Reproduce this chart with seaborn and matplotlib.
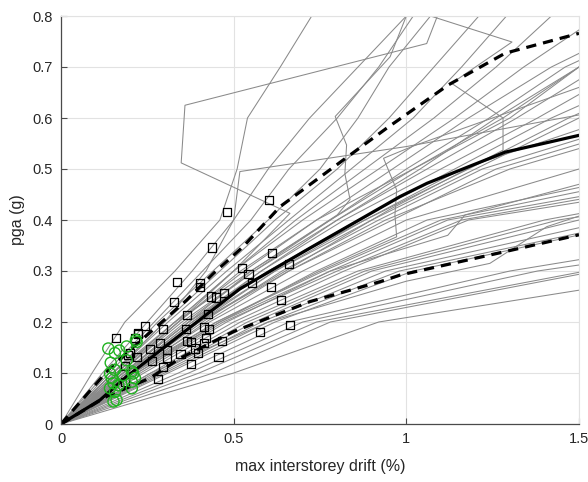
import numpy as np
import pandas as pd
import matplotlib
matplotlib.use("Agg")
import matplotlib.pyplot as plt
import seaborn as sns

# PGA levels (g) at which each IDA record was run
pga_levels = [0.0, 0.1, 0.2, 0.3, 0.4, 0.5, 0.6, 0.7, 0.8]

# max interstorey drift (%) per record at the pga levels above (0.1 ... 0.8)
drift_stiff = [
    [0.09, 0.185, 0.33, 0.46, 0.51, 0.54, 0.635, 0.726],
    [0.12, 0.25, 0.38, 0.50, 0.60, 0.72, 0.86, 1.00],
    [0.13, 0.27, 0.41, 0.55, 0.66, 0.80, 0.92, 1.02],
    [0.14, 0.28, 0.44, 0.60, 0.75, 0.86, 0.95, 1.07],
    [0.15, 0.30, 0.46, 0.62, 0.80, 0.95, 1.08, 1.21],
    [0.15, 0.31, 0.48, 0.66, 0.84, 1.02, 1.16, 1.29],
    [0.16, 0.33, 0.50, 0.68, 0.88, 1.08, 1.26, 1.42],
]
drift_upper = [
    [0.16, 0.33, 0.50, 0.70, 0.92, 1.14, 1.34, 1.56],
    [0.17, 0.34, 0.53, 0.74, 0.96, 1.18, 1.42, 1.72],
    [0.15, 0.33, 0.55, 0.78, 1.00, 1.24, 1.46, 1.78],
    [0.18, 0.36, 0.56, 0.78, 1.02, 1.28, 1.50, 1.85],
    [0.16, 0.34, 0.52, 0.74, 1.02, 1.30, 1.50, 1.90],
    [0.19, 0.38, 0.58, 0.80, 1.04, 1.26, 1.50, 1.80],
    [0.17, 0.35, 0.56, 0.80, 1.06, 1.32, 1.56, 1.95],
    [0.18, 0.37, 0.58, 0.82, 1.10, 1.38, 1.64, 2.00],
    [0.19, 0.38, 0.60, 0.86, 1.14, 1.42, 1.75, 2.10],
    [0.18, 0.37, 0.60, 0.88, 1.18, 1.47, 1.80, 2.20],
    [0.20, 0.40, 0.62, 0.90, 1.20, 1.50, 1.85, 2.20],
]
drift_middle = [
    [0.19, 0.39, 0.62, 0.88, 1.16, 1.60, 2.00, 2.40],
    [0.20, 0.41, 0.64, 0.92, 1.22, 1.70, 2.10, 2.50],
    [0.18, 0.40, 0.66, 0.96, 1.26, 1.75, 2.20, 2.60],
    [0.21, 0.42, 0.66, 0.94, 1.30, 1.80, 2.30, 2.70],
    [0.20, 0.43, 0.70, 1.00, 1.50, 2.00, 2.50, 3.00],
    [0.22, 0.46, 0.74, 1.06, 1.75, 2.30, 2.80, 3.30],
    [0.21, 0.45, 0.76, 1.10, 1.82, 2.40, 2.90, 3.40],
    [0.23, 0.48, 0.78, 1.12, 1.95, 2.50, 3.00, 3.50],
    [0.22, 0.47, 0.80, 1.16, 2.00, 2.60, 3.10, 3.60],
    [0.24, 0.50, 0.82, 1.18, 2.10, 2.70, 3.20, 3.70],
]
drift_soft = [
    [0.26, 0.52, 0.86, 1.40, 2.20, 3.00, 3.60, 4.20],
    [0.27, 0.54, 0.88, 1.44, 2.40, 3.10, 3.70, 4.30],
    [0.28, 0.56, 0.90, 1.50, 2.50, 3.20, 3.80, 4.40],
    [0.29, 0.58, 0.94, 1.60, 2.60, 3.30, 3.90, 4.50],
    [0.30, 0.60, 0.98, 1.68, 2.70, 3.40, 4.00, 4.60],
    [0.31, 0.62, 1.02, 1.70, 2.80, 3.50, 4.10, 4.70],
    [0.34, 0.66, 1.30, 2.20, 3.00, 3.70, 4.30, 4.90],
    [0.37, 0.70, 1.38, 2.40, 3.20, 3.90, 4.50, 5.10],
    [0.40, 0.74, 1.52, 2.60, 3.40, 4.10, 4.70, 5.30],
    [0.44, 0.78, 1.55, 2.80, 3.60, 4.30, 4.90, 5.50],
    [0.50, 0.92, 1.85, 3.00, 3.80, 4.50, 5.10, 5.70],
]

# records whose IDA curves weave / resurrect (own pga steps)
odd_drift = [
    [0, 0.17, 0.34, 0.50, 0.663, 0.348, 0.359, 1.059, 1.09],
    [0, 0.20, 0.40, 0.65, 0.95, 1.28, 1.28, 1.131, 1.306, 1.07],
    [0, 0.18, 0.37, 0.55, 0.80, 0.837, 0.822, 0.827, 0.794, 0.953, 1.0],
    [0, 0.20, 0.45, 0.75, 0.972, 0.967, 0.972, 0.934, 1.02, 1.5],
    [0, 0.15, 0.30, 0.42, 0.50, 0.518, 1.0, 1.5],
    [0, 0.26, 0.60, 1.00, 1.242, 1.407, 1.6],
    [0, 0.21, 0.46, 0.78, 1.12, 1.17, 1.5],
]
odd_pga = [
    [0, 0.1, 0.2, 0.3, 0.413, 0.512, 0.625, 0.746, 0.8],
    [0, 0.1, 0.2, 0.3, 0.42, 0.537, 0.6, 0.668, 0.749, 0.8],
    [0, 0.1, 0.2, 0.3, 0.41, 0.44, 0.491, 0.547, 0.603, 0.72, 0.8],
    [0, 0.1, 0.2, 0.3, 0.367, 0.41, 0.459, 0.521, 0.545, 0.66],
    [0, 0.1, 0.2, 0.3, 0.4, 0.495, 0.544, 0.606],
    [0, 0.1, 0.2, 0.28, 0.315, 0.387, 0.43],
    [0, 0.1, 0.2, 0.3, 0.37, 0.41, 0.47],
]

# 16 / 50 / 84 % fractile curves
p16_drift = [0, 0.142, 0.277, 0.364, 0.441, 0.528, 0.634, 0.818, 0.943, 1.122, 1.286, 1.5]
p16_pga = [0, 0.11, 0.191, 0.243, 0.295, 0.348, 0.426, 0.518, 0.58, 0.665, 0.727, 0.766]
p50_drift = [0, 0.113, 0.19, 0.403, 0.518, 0.721, 0.982, 1.06, 1.286, 1.5]
p50_pga = [0, 0.047, 0.093, 0.205, 0.265, 0.345, 0.446, 0.472, 0.533, 0.566]
p84_drift = [0, 0.132, 0.258, 0.345, 0.499, 0.721, 0.924, 0.982, 1.286, 1.5]
p84_pga = [0, 0.054, 0.09, 0.129, 0.181, 0.24, 0.279, 0.292, 0.338, 0.371]

# limit-state points: yielding (squares) and first cracking (circles)
sq_drift = [0.437, 0.612, 0.661, 0.523, 0.543, 0.337, 0.402, 0.402, 0.554, 0.434,
            0.448, 0.473, 0.607, 0.636, 0.327, 0.364, 0.425, 0.243, 0.296, 0.362,
            0.414, 0.428, 0.222, 0.159, 0.214, 0.364, 0.376, 0.419, 0.415, 0.465,
            0.287, 0.257, 0.308, 0.388, 0.346, 0.396, 0.195, 0.219, 0.308, 0.263,
            0.456, 0.575, 0.664, 0.376, 0.296, 0.185, 0.280, 0.185, 0.482, 0.603,
            0.224, 0.200]
sq_pga = [0.346, 0.336, 0.314, 0.305, 0.295, 0.278, 0.276, 0.269, 0.276, 0.250,
          0.248, 0.257, 0.269, 0.243, 0.239, 0.214, 0.216, 0.193, 0.186, 0.186,
          0.191, 0.186, 0.176, 0.168, 0.168, 0.163, 0.161, 0.168, 0.159, 0.163,
          0.158, 0.147, 0.145, 0.148, 0.137, 0.139, 0.135, 0.131, 0.129, 0.124,
          0.132, 0.180, 0.194, 0.117, 0.112, 0.114, 0.088, 0.083, 0.416, 0.439,
          0.178, 0.139]
ci_drift = [0.137, 0.169, 0.190, 0.217, 0.144, 0.156, 0.147, 0.180, 0.205, 0.214,
            0.152, 0.166, 0.205, 0.142, 0.156, 0.205, 0.152, 0.161, 0.156, 0.190,
            0.142, 0.219, 0.209]
ci_pga = [0.148, 0.144, 0.152, 0.165, 0.120, 0.106, 0.090, 0.096, 0.103, 0.090,
          0.080, 0.076, 0.083, 0.070, 0.063, 0.070, 0.044, 0.047, 0.139, 0.125,
          0.099, 0.161, 0.099]

x_ticks = [0, 0.5, 1, 1.5]
x_tick_labels = ["0", "0.5", "1", "1.5"]
y_ticks = [0, 0.1, 0.2, 0.3, 0.4, 0.5, 0.6, 0.7, 0.8]
y_tick_labels = ["0", "0.1", "0.2", "0.3", "0.4", "0.5", "0.6", "0.7", "0.8"]

# ---- long-form table of all IDA curves ----
rows = []
rec = 0
for group in (drift_stiff, drift_upper, drift_middle, drift_soft):
    for drifts in group:
        for d, p in zip([0.0] + drifts, pga_levels):
            rows.append((rec, d, p))
        rec += 1
for drifts, pgas in zip(odd_drift, odd_pga):
    for d, p in zip(drifts, pgas):
        rows.append((rec, d, p))
    rec += 1
ida = pd.DataFrame(rows, columns=["record", "drift", "pga"])

sns.set_theme(style="white")
plt.rcParams["font.family"] = ["Liberation Sans", "DejaVu Sans"]

fig = plt.figure(figsize=(5.88, 4.82), dpi=100)
ax = fig.add_axes([61 / 588, 58 / 482, 518 / 588, 408 / 482])

sns.lineplot(data=ida, x="drift", y="pga", units="record", estimator=None,
             sort=False, color="#8a8a8a", linewidth=0.75, ax=ax, legend=False)

sns.lineplot(x=p50_drift, y=p50_pga, sort=False, color="black",
             linewidth=2.3, ax=ax, legend=False)
for xd, yp in ((p16_drift, p16_pga), (p84_drift, p84_pga)):
    sns.lineplot(x=xd, y=yp, sort=False, color="black", linewidth=2.3,
                 ax=ax, legend=False, dashes=False)
    ax.lines[-1].set_dashes([3.2, 2.2])

sns.scatterplot(x=sq_drift, y=sq_pga, marker="s", s=34, facecolor="none",
                edgecolor="black", linewidth=0.9, ax=ax, legend=False, zorder=4)
sns.scatterplot(x=ci_drift, y=ci_pga, marker="o", s=64, facecolor="none",
                edgecolor="#1fb21f", linewidth=1.0, ax=ax, legend=False, zorder=5)

ax.set_xlim(0, 1.5)
ax.set_ylim(0, 0.8)
ax.set_xticks(x_ticks)
ax.set_xticklabels(x_tick_labels)
ax.set_yticks(y_ticks)
ax.set_yticklabels(y_tick_labels)

ax.grid(True, color="#e2e2e2", linewidth=0.8)
ax.set_axisbelow(True)
for side in ("left", "bottom"):
    ax.spines[side].set_color("#4a4a4a")
    ax.spines[side].set_linewidth(0.9)
for side in ("top", "right"):
    ax.spines[side].set_color("#e2e2e2")
    ax.spines[side].set_linewidth(0.8)

ax.tick_params(axis="both", direction="in", length=4, width=0.8,
               color="#4a4a4a", labelsize=10.5, labelcolor="#262626", pad=6)
ax.tick_params(top=False, right=False, bottom=True, left=True)

ax.set_xlabel("max interstorey drift (%)", fontsize=11.5, color="#262626", labelpad=9)
ax.set_ylabel("pga (g)", fontsize=11.5, color="#262626", labelpad=5)

fig.savefig("out.png", dpi=100)
